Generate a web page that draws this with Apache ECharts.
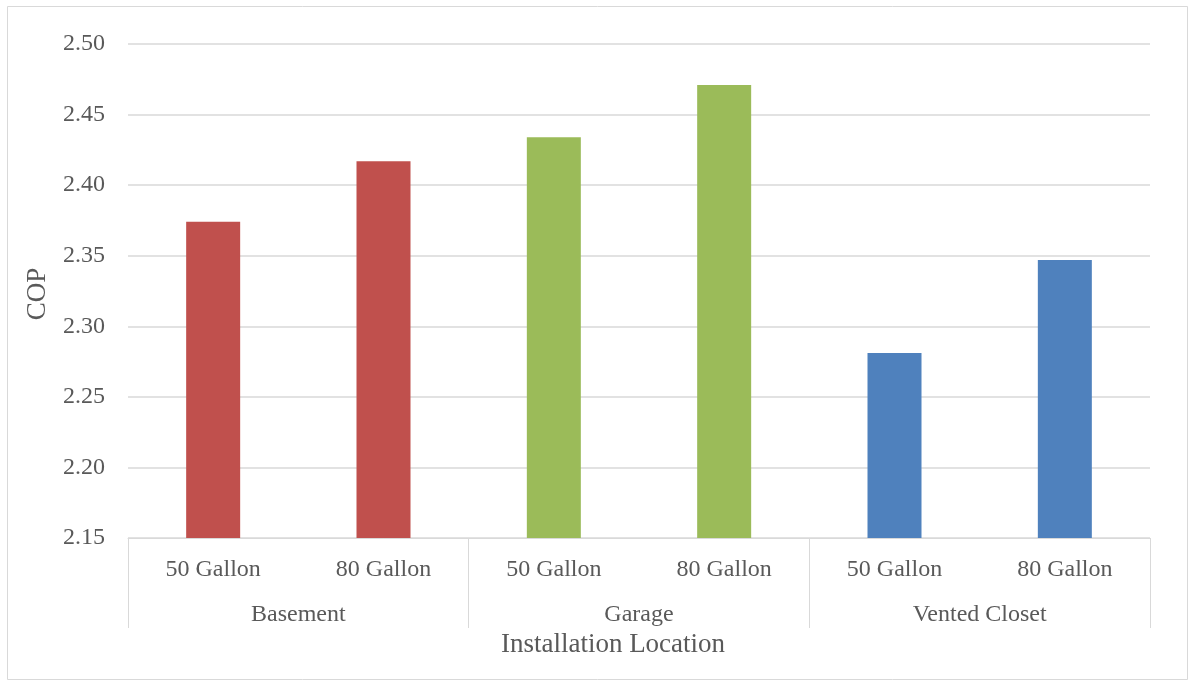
<!DOCTYPE html>
<html>
<head>
<meta charset="utf-8">
<script src="https://cdn.jsdelivr.net/npm/echarts@6/dist/echarts.min.js"></script>
<style>
  html, body { margin: 0; padding: 0; background: #ffffff; }
  #chart { width: 1191px; height: 683px; }
</style>
</head>
<body>
<div id="chart"></div>
<script>
// Tank sizes (inner axis level) and installation locations (outer level)
var tankSizes = ['50 Gallon', '80 Gallon', '50 Gallon', '80 Gallon', '50 Gallon', '80 Gallon'];
var locations = ['Basement', 'Garage', 'Vented Closet'];
// COP per tank size, two per location
var copValues = [2.374, 2.417, 2.434, 2.471, 2.281, 2.347];
var locationColors = ['#c0504d', '#9bbb59', '#4f81bd'];
var yTicks = { min: 2.15, max: 2.50, step: 0.05 };

var FONT = 'Liberation Serif';
var TEXT = '#595959';
var LINE = '#d9d9d9';

var chart = echarts.init(document.getElementById('chart'), null, { renderer: 'canvas' });

chart.setOption({
  backgroundColor: '#ffffff',
  animation: false,
  grid: { left: 128, right: 41, top: 44, bottom: 145, containLabel: false },
  graphic: [
    {
      type: 'rect',
      shape: { x: 7.5, y: 6.5, width: 1180, height: 673 },
      style: { fill: 'none', stroke: LINE, lineWidth: 1 },
      silent: true
    },
    {
      type: 'text',
      x: 613, y: 645,
      style: {
        text: 'Installation Location',
        font: '27px "' + FONT + '"',
        fill: TEXT,
        textAlign: 'center',
        textVerticalAlign: 'middle'
      }
    },
    {
      type: 'text',
      x: 38, y: 294,
      rotation: Math.PI / 2,
      style: {
        text: 'COP',
        font: '27px "' + FONT + '"',
        fill: TEXT,
        textAlign: 'center',
        textVerticalAlign: 'middle'
      }
    }
  ],
  xAxis: [
    {
      type: 'category',
      data: tankSizes,
      position: 'bottom',
      axisLine: { show: true, lineStyle: { color: LINE, width: 1 } },
      axisTick: { show: false },
      axisLabel: { color: TEXT, fontFamily: FONT, fontSize: 24, margin: 20, interval: 0 },
      splitLine: { show: false }
    },
    {
      type: 'category',
      data: locations,
      position: 'bottom',
      axisLine: { show: false },
      axisTick: { show: true, length: 90, interval: 0, lineStyle: { color: LINE, width: 1 } },
      axisLabel: { color: TEXT, fontFamily: FONT, fontSize: 24, margin: 65, interval: 0 },
      splitLine: { show: false }
    }
  ],
  yAxis: {
    type: 'value',
    min: yTicks.min,
    max: yTicks.max,
    interval: yTicks.step,
    axisLine: { show: false },
    axisTick: { show: false },
    axisLabel: {
      color: TEXT, fontFamily: FONT, fontSize: 24, margin: 23,
      padding: [4, 0, 0, 0],
      formatter: function (v) { return v.toFixed(2); }
    },
    splitLine: { show: true, lineStyle: { color: LINE, width: 1.5 } }
  },
  series: [
    {
      type: 'bar',
      xAxisIndex: 0,
      data: copValues,
      barWidth: 54,
      itemStyle: {
        color: function (p) { return locationColors[Math.floor(p.dataIndex / 2)]; }
      }
    }
  ]
});
</script>
</body>
</html>
